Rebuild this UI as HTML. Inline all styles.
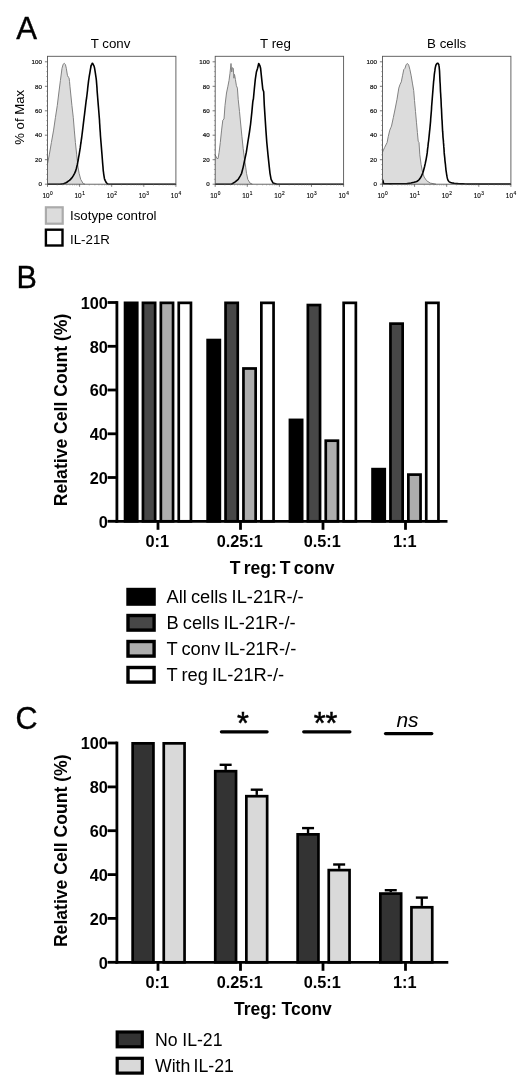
<!DOCTYPE html>
<html><head><meta charset="utf-8"><title>Figure</title>
<style>
html,body{margin:0;padding:0;background:#fff;}
svg{display:block;}
text{font-family:"Liberation Sans",sans-serif;fill:#000;}
.b{font-weight:bold;}
</style></head><body>
<svg width="520" height="1086" viewBox="0 0 520 1086">
<rect width="520" height="1086" fill="#fff"/>

<text x="16.2" y="38.6" font-size="31.2" stroke="#000" stroke-width="0.35">A</text>
<g>
<text x="110.5" y="47.6" font-size="13.3" text-anchor="middle">T conv</text>
<polygon points="47.6,184.2 47.6,163.4 49.3,154.8 51.4,142.5 53.6,130.1 55.4,117.7 57.3,105.4 58.8,93.0 60.4,80.6 62.0,68.3 63.2,64.2 64.3,63.3 65.4,64.5 66.3,68.3 67.4,75.3 68.2,77.0 69.0,77.7 69.5,81.4 70.0,86.8 71.9,105.4 73.3,117.7 74.3,130.1 75.4,142.5 76.7,154.8 78.0,167.1 79.1,173.3 80.7,179.4 83.2,183.6 85.0,184.2 85.0,184.2" fill="#dcdcdc" stroke="none"/>
<polyline points="47.6,163.4 49.3,154.8 51.4,142.5 53.6,130.1 55.4,117.7 57.3,105.4 58.8,93.0 60.4,80.6 62.0,68.3 63.2,64.2 64.3,63.3 65.4,64.5 66.3,68.3 67.4,75.3 68.2,77.0 69.0,77.7 69.5,81.4 70.0,86.8 71.9,105.4 73.3,117.7 74.3,130.1 75.4,142.5 76.7,154.8 78.0,167.1 79.1,173.3 80.7,179.4 83.2,183.6 85.0,184.2" fill="none" stroke="#828282" stroke-width="1" stroke-linejoin="round"/>
<polyline points="47.6,184.2 49.4,184.2 52.1,184.2 55.0,184.2 57.8,184.2 60.0,184.2 61.4,184.1 62.5,184.0 63.2,183.9 64.0,183.6 64.9,183.2 66.0,182.7 67.2,182.0 68.3,181.2 69.5,180.4 70.5,179.4 71.4,178.4 72.3,177.2 73.2,175.9 73.9,174.6 74.6,173.3 75.1,172.2 75.6,171.1 75.9,170.0 76.3,168.7 76.7,167.1 77.2,165.0 77.7,162.6 78.2,160.0 78.6,157.4 79.1,154.8 79.5,152.4 79.9,149.9 80.3,147.4 80.6,144.9 81.0,142.5 81.3,140.0 81.7,137.5 82.0,135.0 82.3,132.6 82.6,130.1 82.9,127.6 83.2,125.2 83.5,122.7 83.8,120.2 84.1,117.7 84.4,115.3 84.7,112.8 85.0,110.3 85.3,107.8 85.6,105.4 85.9,102.9 86.2,100.4 86.6,98.0 86.9,95.5 87.2,93.0 87.5,90.5 87.7,88.1 88.0,85.6 88.3,83.1 88.6,80.6 89.0,78.0 89.4,75.3 89.9,72.6 90.3,70.2 90.6,68.3 90.9,67.0 91.0,66.1 91.2,65.6 91.3,65.2 91.5,64.7 91.7,64.3 91.8,63.9 92.0,63.6 92.1,63.4 92.3,63.3 92.5,63.3 92.6,63.4 92.8,63.7 93.0,64.0 93.2,64.5 93.4,65.0 93.7,65.4 94.0,66.0 94.3,66.9 94.6,68.3 94.9,70.2 95.3,72.6 95.7,75.3 96.1,78.0 96.4,80.6 96.6,83.1 96.8,85.6 97.0,88.1 97.1,90.5 97.3,93.0 97.5,95.5 97.7,98.0 97.9,100.4 98.1,102.9 98.3,105.4 98.5,107.8 98.7,110.3 98.9,112.8 99.1,115.3 99.3,117.7 99.5,120.2 99.6,122.7 99.8,125.2 99.9,127.6 100.1,130.1 100.3,132.6 100.4,135.0 100.6,137.5 100.8,140.0 101.0,142.5 101.2,144.9 101.4,147.4 101.6,149.9 101.8,152.4 102.0,154.8 102.2,157.4 102.4,160.0 102.6,162.6 102.8,165.0 103.0,167.1 103.1,168.7 103.2,170.0 103.3,171.1 103.5,172.2 103.6,173.3 103.8,174.6 104.0,175.9 104.2,177.2 104.4,178.4 104.7,179.4 105.1,180.4 105.5,181.2 105.9,182.0 106.4,182.7 106.9,183.2 107.2,183.6 107.3,183.9 107.5,184.0 108.3,184.1 110.0,184.2 112.5,184.2 115.5,184.2 119.3,184.2 124.1,184.2 130.0,184.2 138.3,184.2 148.7,184.2 159.6,184.2 169.2,184.2 175.9,184.2" fill="none" stroke="#000" stroke-width="1.6" stroke-linejoin="round"/>
<rect x="47.5" y="56.3" width="128.4" height="127.9" fill="none" stroke="#555" stroke-width="0.9"/>
<line x1="44.9" y1="184.2" x2="47.5" y2="184.2" stroke="#444" stroke-width="0.7"/>
<text x="41.9" y="186.4" font-size="6.2" stroke="#222" stroke-width="0.2" text-anchor="end" fill="#222">0</text>
<line x1="44.9" y1="159.7" x2="47.5" y2="159.7" stroke="#444" stroke-width="0.7"/>
<text x="41.9" y="161.9" font-size="6.2" stroke="#222" stroke-width="0.2" text-anchor="end" fill="#222">20</text>
<line x1="44.9" y1="135.2" x2="47.5" y2="135.2" stroke="#444" stroke-width="0.7"/>
<text x="41.9" y="137.4" font-size="6.2" stroke="#222" stroke-width="0.2" text-anchor="end" fill="#222">40</text>
<line x1="44.9" y1="110.8" x2="47.5" y2="110.8" stroke="#444" stroke-width="0.7"/>
<text x="41.9" y="113.0" font-size="6.2" stroke="#222" stroke-width="0.2" text-anchor="end" fill="#222">60</text>
<line x1="44.9" y1="86.3" x2="47.5" y2="86.3" stroke="#444" stroke-width="0.7"/>
<text x="41.9" y="88.5" font-size="6.2" stroke="#222" stroke-width="0.2" text-anchor="end" fill="#222">80</text>
<line x1="44.9" y1="61.8" x2="47.5" y2="61.8" stroke="#444" stroke-width="0.7"/>
<text x="41.9" y="64.0" font-size="6.2" stroke="#222" stroke-width="0.2" text-anchor="end" fill="#222">100</text>
<line x1="46.2" y1="179.3" x2="47.5" y2="179.3" stroke="#666" stroke-width="0.5"/>
<line x1="46.2" y1="174.4" x2="47.5" y2="174.4" stroke="#666" stroke-width="0.5"/>
<line x1="46.2" y1="169.5" x2="47.5" y2="169.5" stroke="#666" stroke-width="0.5"/>
<line x1="46.2" y1="164.6" x2="47.5" y2="164.6" stroke="#666" stroke-width="0.5"/>
<line x1="46.2" y1="154.8" x2="47.5" y2="154.8" stroke="#666" stroke-width="0.5"/>
<line x1="46.2" y1="149.9" x2="47.5" y2="149.9" stroke="#666" stroke-width="0.5"/>
<line x1="46.2" y1="145.0" x2="47.5" y2="145.0" stroke="#666" stroke-width="0.5"/>
<line x1="46.2" y1="140.1" x2="47.5" y2="140.1" stroke="#666" stroke-width="0.5"/>
<line x1="46.2" y1="130.3" x2="47.5" y2="130.3" stroke="#666" stroke-width="0.5"/>
<line x1="46.2" y1="125.4" x2="47.5" y2="125.4" stroke="#666" stroke-width="0.5"/>
<line x1="46.2" y1="120.6" x2="47.5" y2="120.6" stroke="#666" stroke-width="0.5"/>
<line x1="46.2" y1="115.7" x2="47.5" y2="115.7" stroke="#666" stroke-width="0.5"/>
<line x1="46.2" y1="105.9" x2="47.5" y2="105.9" stroke="#666" stroke-width="0.5"/>
<line x1="46.2" y1="101.0" x2="47.5" y2="101.0" stroke="#666" stroke-width="0.5"/>
<line x1="46.2" y1="96.1" x2="47.5" y2="96.1" stroke="#666" stroke-width="0.5"/>
<line x1="46.2" y1="91.2" x2="47.5" y2="91.2" stroke="#666" stroke-width="0.5"/>
<line x1="46.2" y1="81.4" x2="47.5" y2="81.4" stroke="#666" stroke-width="0.5"/>
<line x1="46.2" y1="76.5" x2="47.5" y2="76.5" stroke="#666" stroke-width="0.5"/>
<line x1="46.2" y1="71.6" x2="47.5" y2="71.6" stroke="#666" stroke-width="0.5"/>
<line x1="46.2" y1="66.7" x2="47.5" y2="66.7" stroke="#666" stroke-width="0.5"/>
<line x1="47.5" y1="184.2" x2="47.5" y2="186.79999999999998" stroke="#444" stroke-width="0.7"/>
<text x="47.6" y="197.8" font-size="6.4" text-anchor="middle" fill="#000" stroke="#000" stroke-width="0.12">10<tspan dx="0.5" dy="-3.0" font-size="4.8">0</tspan></text>
<line x1="57.2" y1="184.2" x2="57.2" y2="185.6" stroke="#777" stroke-width="0.4"/>
<line x1="62.8" y1="184.2" x2="62.8" y2="185.6" stroke="#777" stroke-width="0.4"/>
<line x1="66.8" y1="184.2" x2="66.8" y2="185.6" stroke="#777" stroke-width="0.4"/>
<line x1="69.9" y1="184.2" x2="69.9" y2="185.6" stroke="#777" stroke-width="0.4"/>
<line x1="72.5" y1="184.2" x2="72.5" y2="185.6" stroke="#777" stroke-width="0.4"/>
<line x1="74.6" y1="184.2" x2="74.6" y2="185.6" stroke="#777" stroke-width="0.4"/>
<line x1="76.5" y1="184.2" x2="76.5" y2="185.6" stroke="#777" stroke-width="0.4"/>
<line x1="78.1" y1="184.2" x2="78.1" y2="185.6" stroke="#777" stroke-width="0.4"/>
<line x1="79.6" y1="184.2" x2="79.6" y2="186.79999999999998" stroke="#444" stroke-width="0.7"/>
<text x="79.7" y="197.8" font-size="6.4" text-anchor="middle" fill="#000" stroke="#000" stroke-width="0.12">10<tspan dx="0.5" dy="-3.0" font-size="4.8">1</tspan></text>
<line x1="89.3" y1="184.2" x2="89.3" y2="185.6" stroke="#777" stroke-width="0.4"/>
<line x1="94.9" y1="184.2" x2="94.9" y2="185.6" stroke="#777" stroke-width="0.4"/>
<line x1="98.9" y1="184.2" x2="98.9" y2="185.6" stroke="#777" stroke-width="0.4"/>
<line x1="102.0" y1="184.2" x2="102.0" y2="185.6" stroke="#777" stroke-width="0.4"/>
<line x1="104.6" y1="184.2" x2="104.6" y2="185.6" stroke="#777" stroke-width="0.4"/>
<line x1="106.7" y1="184.2" x2="106.7" y2="185.6" stroke="#777" stroke-width="0.4"/>
<line x1="108.6" y1="184.2" x2="108.6" y2="185.6" stroke="#777" stroke-width="0.4"/>
<line x1="110.2" y1="184.2" x2="110.2" y2="185.6" stroke="#777" stroke-width="0.4"/>
<line x1="111.7" y1="184.2" x2="111.7" y2="186.79999999999998" stroke="#444" stroke-width="0.7"/>
<text x="111.8" y="197.8" font-size="6.4" text-anchor="middle" fill="#000" stroke="#000" stroke-width="0.12">10<tspan dx="0.5" dy="-3.0" font-size="4.8">2</tspan></text>
<line x1="121.4" y1="184.2" x2="121.4" y2="185.6" stroke="#777" stroke-width="0.4"/>
<line x1="127.0" y1="184.2" x2="127.0" y2="185.6" stroke="#777" stroke-width="0.4"/>
<line x1="131.0" y1="184.2" x2="131.0" y2="185.6" stroke="#777" stroke-width="0.4"/>
<line x1="134.1" y1="184.2" x2="134.1" y2="185.6" stroke="#777" stroke-width="0.4"/>
<line x1="136.7" y1="184.2" x2="136.7" y2="185.6" stroke="#777" stroke-width="0.4"/>
<line x1="138.8" y1="184.2" x2="138.8" y2="185.6" stroke="#777" stroke-width="0.4"/>
<line x1="140.7" y1="184.2" x2="140.7" y2="185.6" stroke="#777" stroke-width="0.4"/>
<line x1="142.3" y1="184.2" x2="142.3" y2="185.6" stroke="#777" stroke-width="0.4"/>
<line x1="143.8" y1="184.2" x2="143.8" y2="186.79999999999998" stroke="#444" stroke-width="0.7"/>
<text x="143.9" y="197.8" font-size="6.4" text-anchor="middle" fill="#000" stroke="#000" stroke-width="0.12">10<tspan dx="0.5" dy="-3.0" font-size="4.8">3</tspan></text>
<line x1="153.5" y1="184.2" x2="153.5" y2="185.6" stroke="#777" stroke-width="0.4"/>
<line x1="159.1" y1="184.2" x2="159.1" y2="185.6" stroke="#777" stroke-width="0.4"/>
<line x1="163.1" y1="184.2" x2="163.1" y2="185.6" stroke="#777" stroke-width="0.4"/>
<line x1="166.2" y1="184.2" x2="166.2" y2="185.6" stroke="#777" stroke-width="0.4"/>
<line x1="168.8" y1="184.2" x2="168.8" y2="185.6" stroke="#777" stroke-width="0.4"/>
<line x1="170.9" y1="184.2" x2="170.9" y2="185.6" stroke="#777" stroke-width="0.4"/>
<line x1="172.8" y1="184.2" x2="172.8" y2="185.6" stroke="#777" stroke-width="0.4"/>
<line x1="174.4" y1="184.2" x2="174.4" y2="185.6" stroke="#777" stroke-width="0.4"/>
<line x1="175.9" y1="184.2" x2="175.9" y2="186.79999999999998" stroke="#444" stroke-width="0.7"/>
<text x="176.0" y="197.8" font-size="6.4" text-anchor="middle" fill="#000" stroke="#000" stroke-width="0.12">10<tspan dx="0.5" dy="-3.0" font-size="4.8">4</tspan></text>
</g>
<g>
<text x="275.5" y="47.6" font-size="13.3" text-anchor="middle">T reg</text>
<polygon points="215.2,184.2 215.2,154.8 216.9,158.5 218.1,158.5 219.1,152.4 220.3,142.5 221.6,130.1 222.8,120.2 224.0,119.0 225.0,105.4 226.5,93.0 227.8,86.8 229.0,80.6 230.0,73.2 231.0,63.5 231.7,72.0 232.4,67.7 233.3,68.3 233.9,78.2 234.5,74.4 235.4,79.4 236.4,85.7 237.4,88.1 238.2,99.3 239.5,111.6 240.7,124.0 241.9,136.3 243.2,148.7 244.4,158.5 245.7,167.1 246.5,173.3 247.8,179.4 250.0,183.1 252.4,184.2 252.4,184.2" fill="#dcdcdc" stroke="none"/>
<polyline points="215.2,154.8 216.9,158.5 218.1,158.5 219.1,152.4 220.3,142.5 221.6,130.1 222.8,120.2 224.0,119.0 225.0,105.4 226.5,93.0 227.8,86.8 229.0,80.6 230.0,73.2 231.0,63.5 231.7,72.0 232.4,67.7 233.3,68.3 233.9,78.2 234.5,74.4 235.4,79.4 236.4,85.7 237.4,88.1 238.2,99.3 239.5,111.6 240.7,124.0 241.9,136.3 243.2,148.7 244.4,158.5 245.7,167.1 246.5,173.3 247.8,179.4 250.0,183.1 252.4,184.2" fill="none" stroke="#828282" stroke-width="1" stroke-linejoin="round"/>
<polyline points="215.2,184.2 231.5,184.2 235.2,181.9 238.2,179.4 240.3,175.8 241.6,173.3 243.2,167.1 245.0,158.5 246.3,152.4 247.8,142.5 249.4,132.5 250.6,124.0 251.9,111.6 252.7,102.9 253.0,100.5 253.4,99.0 254.3,89.3 255.3,79.4 256.4,72.0 257.6,68.3 258.7,63.5 259.9,65.7 260.6,68.3 261.6,78.2 262.8,89.3 263.7,91.8 264.3,105.4 265.1,117.7 265.9,130.1 266.8,142.5 268.0,154.8 269.3,167.1 270.0,173.3 271.1,179.4 273.1,183.1 277.0,184.2 343.6,184.2" fill="none" stroke="#000" stroke-width="1.6" stroke-linejoin="round"/>
<rect x="215.2" y="56.3" width="128.4" height="127.9" fill="none" stroke="#555" stroke-width="0.9"/>
<line x1="212.6" y1="184.2" x2="215.2" y2="184.2" stroke="#444" stroke-width="0.7"/>
<text x="209.6" y="186.4" font-size="6.2" stroke="#222" stroke-width="0.2" text-anchor="end" fill="#222">0</text>
<line x1="212.6" y1="159.7" x2="215.2" y2="159.7" stroke="#444" stroke-width="0.7"/>
<text x="209.6" y="161.9" font-size="6.2" stroke="#222" stroke-width="0.2" text-anchor="end" fill="#222">20</text>
<line x1="212.6" y1="135.2" x2="215.2" y2="135.2" stroke="#444" stroke-width="0.7"/>
<text x="209.6" y="137.4" font-size="6.2" stroke="#222" stroke-width="0.2" text-anchor="end" fill="#222">40</text>
<line x1="212.6" y1="110.8" x2="215.2" y2="110.8" stroke="#444" stroke-width="0.7"/>
<text x="209.6" y="113.0" font-size="6.2" stroke="#222" stroke-width="0.2" text-anchor="end" fill="#222">60</text>
<line x1="212.6" y1="86.3" x2="215.2" y2="86.3" stroke="#444" stroke-width="0.7"/>
<text x="209.6" y="88.5" font-size="6.2" stroke="#222" stroke-width="0.2" text-anchor="end" fill="#222">80</text>
<line x1="212.6" y1="61.8" x2="215.2" y2="61.8" stroke="#444" stroke-width="0.7"/>
<text x="209.6" y="64.0" font-size="6.2" stroke="#222" stroke-width="0.2" text-anchor="end" fill="#222">100</text>
<line x1="213.89999999999998" y1="179.3" x2="215.2" y2="179.3" stroke="#666" stroke-width="0.5"/>
<line x1="213.89999999999998" y1="174.4" x2="215.2" y2="174.4" stroke="#666" stroke-width="0.5"/>
<line x1="213.89999999999998" y1="169.5" x2="215.2" y2="169.5" stroke="#666" stroke-width="0.5"/>
<line x1="213.89999999999998" y1="164.6" x2="215.2" y2="164.6" stroke="#666" stroke-width="0.5"/>
<line x1="213.89999999999998" y1="154.8" x2="215.2" y2="154.8" stroke="#666" stroke-width="0.5"/>
<line x1="213.89999999999998" y1="149.9" x2="215.2" y2="149.9" stroke="#666" stroke-width="0.5"/>
<line x1="213.89999999999998" y1="145.0" x2="215.2" y2="145.0" stroke="#666" stroke-width="0.5"/>
<line x1="213.89999999999998" y1="140.1" x2="215.2" y2="140.1" stroke="#666" stroke-width="0.5"/>
<line x1="213.89999999999998" y1="130.3" x2="215.2" y2="130.3" stroke="#666" stroke-width="0.5"/>
<line x1="213.89999999999998" y1="125.4" x2="215.2" y2="125.4" stroke="#666" stroke-width="0.5"/>
<line x1="213.89999999999998" y1="120.6" x2="215.2" y2="120.6" stroke="#666" stroke-width="0.5"/>
<line x1="213.89999999999998" y1="115.7" x2="215.2" y2="115.7" stroke="#666" stroke-width="0.5"/>
<line x1="213.89999999999998" y1="105.9" x2="215.2" y2="105.9" stroke="#666" stroke-width="0.5"/>
<line x1="213.89999999999998" y1="101.0" x2="215.2" y2="101.0" stroke="#666" stroke-width="0.5"/>
<line x1="213.89999999999998" y1="96.1" x2="215.2" y2="96.1" stroke="#666" stroke-width="0.5"/>
<line x1="213.89999999999998" y1="91.2" x2="215.2" y2="91.2" stroke="#666" stroke-width="0.5"/>
<line x1="213.89999999999998" y1="81.4" x2="215.2" y2="81.4" stroke="#666" stroke-width="0.5"/>
<line x1="213.89999999999998" y1="76.5" x2="215.2" y2="76.5" stroke="#666" stroke-width="0.5"/>
<line x1="213.89999999999998" y1="71.6" x2="215.2" y2="71.6" stroke="#666" stroke-width="0.5"/>
<line x1="213.89999999999998" y1="66.7" x2="215.2" y2="66.7" stroke="#666" stroke-width="0.5"/>
<line x1="215.2" y1="184.2" x2="215.2" y2="186.79999999999998" stroke="#444" stroke-width="0.7"/>
<text x="215.3" y="197.8" font-size="6.4" text-anchor="middle" fill="#000" stroke="#000" stroke-width="0.12">10<tspan dx="0.5" dy="-3.0" font-size="4.8">0</tspan></text>
<line x1="224.9" y1="184.2" x2="224.9" y2="185.6" stroke="#777" stroke-width="0.4"/>
<line x1="230.5" y1="184.2" x2="230.5" y2="185.6" stroke="#777" stroke-width="0.4"/>
<line x1="234.5" y1="184.2" x2="234.5" y2="185.6" stroke="#777" stroke-width="0.4"/>
<line x1="237.6" y1="184.2" x2="237.6" y2="185.6" stroke="#777" stroke-width="0.4"/>
<line x1="240.2" y1="184.2" x2="240.2" y2="185.6" stroke="#777" stroke-width="0.4"/>
<line x1="242.3" y1="184.2" x2="242.3" y2="185.6" stroke="#777" stroke-width="0.4"/>
<line x1="244.2" y1="184.2" x2="244.2" y2="185.6" stroke="#777" stroke-width="0.4"/>
<line x1="245.8" y1="184.2" x2="245.8" y2="185.6" stroke="#777" stroke-width="0.4"/>
<line x1="247.3" y1="184.2" x2="247.3" y2="186.79999999999998" stroke="#444" stroke-width="0.7"/>
<text x="247.4" y="197.8" font-size="6.4" text-anchor="middle" fill="#000" stroke="#000" stroke-width="0.12">10<tspan dx="0.5" dy="-3.0" font-size="4.8">1</tspan></text>
<line x1="257.0" y1="184.2" x2="257.0" y2="185.6" stroke="#777" stroke-width="0.4"/>
<line x1="262.6" y1="184.2" x2="262.6" y2="185.6" stroke="#777" stroke-width="0.4"/>
<line x1="266.6" y1="184.2" x2="266.6" y2="185.6" stroke="#777" stroke-width="0.4"/>
<line x1="269.7" y1="184.2" x2="269.7" y2="185.6" stroke="#777" stroke-width="0.4"/>
<line x1="272.3" y1="184.2" x2="272.3" y2="185.6" stroke="#777" stroke-width="0.4"/>
<line x1="274.4" y1="184.2" x2="274.4" y2="185.6" stroke="#777" stroke-width="0.4"/>
<line x1="276.3" y1="184.2" x2="276.3" y2="185.6" stroke="#777" stroke-width="0.4"/>
<line x1="277.9" y1="184.2" x2="277.9" y2="185.6" stroke="#777" stroke-width="0.4"/>
<line x1="279.4" y1="184.2" x2="279.4" y2="186.79999999999998" stroke="#444" stroke-width="0.7"/>
<text x="279.5" y="197.8" font-size="6.4" text-anchor="middle" fill="#000" stroke="#000" stroke-width="0.12">10<tspan dx="0.5" dy="-3.0" font-size="4.8">2</tspan></text>
<line x1="289.1" y1="184.2" x2="289.1" y2="185.6" stroke="#777" stroke-width="0.4"/>
<line x1="294.7" y1="184.2" x2="294.7" y2="185.6" stroke="#777" stroke-width="0.4"/>
<line x1="298.7" y1="184.2" x2="298.7" y2="185.6" stroke="#777" stroke-width="0.4"/>
<line x1="301.8" y1="184.2" x2="301.8" y2="185.6" stroke="#777" stroke-width="0.4"/>
<line x1="304.4" y1="184.2" x2="304.4" y2="185.6" stroke="#777" stroke-width="0.4"/>
<line x1="306.5" y1="184.2" x2="306.5" y2="185.6" stroke="#777" stroke-width="0.4"/>
<line x1="308.4" y1="184.2" x2="308.4" y2="185.6" stroke="#777" stroke-width="0.4"/>
<line x1="310.0" y1="184.2" x2="310.0" y2="185.6" stroke="#777" stroke-width="0.4"/>
<line x1="311.5" y1="184.2" x2="311.5" y2="186.79999999999998" stroke="#444" stroke-width="0.7"/>
<text x="311.6" y="197.8" font-size="6.4" text-anchor="middle" fill="#000" stroke="#000" stroke-width="0.12">10<tspan dx="0.5" dy="-3.0" font-size="4.8">3</tspan></text>
<line x1="321.2" y1="184.2" x2="321.2" y2="185.6" stroke="#777" stroke-width="0.4"/>
<line x1="326.8" y1="184.2" x2="326.8" y2="185.6" stroke="#777" stroke-width="0.4"/>
<line x1="330.8" y1="184.2" x2="330.8" y2="185.6" stroke="#777" stroke-width="0.4"/>
<line x1="333.9" y1="184.2" x2="333.9" y2="185.6" stroke="#777" stroke-width="0.4"/>
<line x1="336.5" y1="184.2" x2="336.5" y2="185.6" stroke="#777" stroke-width="0.4"/>
<line x1="338.6" y1="184.2" x2="338.6" y2="185.6" stroke="#777" stroke-width="0.4"/>
<line x1="340.5" y1="184.2" x2="340.5" y2="185.6" stroke="#777" stroke-width="0.4"/>
<line x1="342.1" y1="184.2" x2="342.1" y2="185.6" stroke="#777" stroke-width="0.4"/>
<line x1="343.6" y1="184.2" x2="343.6" y2="186.79999999999998" stroke="#444" stroke-width="0.7"/>
<text x="343.7" y="197.8" font-size="6.4" text-anchor="middle" fill="#000" stroke="#000" stroke-width="0.12">10<tspan dx="0.5" dy="-3.0" font-size="4.8">4</tspan></text>
</g>
<g>
<text x="446.7" y="47.6" font-size="13.3" text-anchor="middle">B cells</text>
<polygon points="382.4,184.2 382.4,152.4 384.6,147.5 387.1,142.5 388.3,136.3 389.8,130.1 390.8,127.7 391.5,126.1 393.3,117.7 395.1,109.0 397.0,99.3 398.8,88.1 400.1,84.3 401.3,81.9 402.5,75.8 403.8,69.5 405.0,68.3 406.2,64.5 407.5,63.5 408.7,65.1 409.9,69.5 411.2,75.8 412.4,83.1 413.7,90.6 414.5,100.5 415.5,111.6 416.5,122.8 417.4,132.5 418.2,141.2 419.0,142.5 419.8,154.8 421.1,164.6 422.3,170.9 424.1,177.0 426.6,180.7 430.3,183.1 436.0,184.2 436.0,184.2" fill="#dcdcdc" stroke="none"/>
<polyline points="382.4,152.4 384.6,147.5 387.1,142.5 388.3,136.3 389.8,130.1 390.8,127.7 391.5,126.1 393.3,117.7 395.1,109.0 397.0,99.3 398.8,88.1 400.1,84.3 401.3,81.9 402.5,75.8 403.8,69.5 405.0,68.3 406.2,64.5 407.5,63.5 408.7,65.1 409.9,69.5 411.2,75.8 412.4,83.1 413.7,90.6 414.5,100.5 415.5,111.6 416.5,122.8 417.4,132.5 418.2,141.2 419.0,142.5 419.8,154.8 421.1,164.6 422.3,170.9 424.1,177.0 426.6,180.7 430.3,183.1 436.0,184.2" fill="none" stroke="#828282" stroke-width="1" stroke-linejoin="round"/>
<polyline points="382.6,184.2 382.9,180.3 383.6,183.5 385.0,183.8 385.0,183.8 386.3,183.8 388.2,183.8 390.4,183.9 392.7,183.8 395.0,183.8 397.4,183.8 399.9,183.8 402.5,183.8 404.9,183.7 406.9,183.6 408.5,183.4 409.8,183.2 411.0,183.0 412.0,182.7 413.0,182.5 414.0,182.3 415.0,182.0 415.9,181.8 416.7,181.5 417.5,181.0 418.3,180.4 419.0,179.7 419.7,178.9 420.3,178.0 420.9,177.0 421.5,175.9 422.0,174.7 422.5,173.5 423.0,172.2 423.4,170.9 423.8,169.5 424.2,168.0 424.6,166.5 424.9,165.0 425.3,163.4 425.6,161.8 426.0,160.1 426.3,158.4 426.6,156.6 426.9,154.8 427.2,152.9 427.4,150.9 427.6,148.9 427.9,146.9 428.1,144.9 428.3,142.9 428.6,141.0 428.8,139.0 429.0,137.1 429.2,135.1 429.4,133.2 429.6,131.2 429.8,129.3 430.0,127.3 430.2,125.2 430.4,123.1 430.6,120.9 430.7,118.7 430.9,116.4 431.1,114.1 431.3,111.7 431.5,109.2 431.6,106.7 431.8,104.2 432.0,101.7 432.2,99.2 432.4,96.8 432.6,94.3 432.8,91.8 433.0,89.3 433.2,86.8 433.4,84.3 433.6,81.7 433.9,79.3 434.1,77.0 434.3,74.7 434.6,72.5 434.9,70.4 435.1,68.6 435.4,67.1 435.7,66.0 435.9,65.2 436.2,64.6 436.4,64.2 436.7,63.9 437.0,63.6 437.3,63.3 437.6,63.2 437.9,63.3 438.2,63.5 438.4,63.9 438.7,64.3 438.9,65.0 439.0,65.9 439.2,67.1 439.3,68.6 439.5,70.5 439.6,72.5 439.7,74.7 439.8,77.0 439.9,79.3 440.0,81.7 440.2,84.3 440.3,86.8 440.4,89.3 440.5,91.8 440.7,94.3 440.8,96.8 441.0,99.2 441.1,101.7 441.2,104.2 441.3,106.7 441.5,109.2 441.6,111.7 441.7,114.1 441.8,116.4 441.9,118.7 442.1,120.9 442.2,123.1 442.3,125.2 442.4,127.3 442.5,129.3 442.6,131.2 442.8,133.2 442.9,135.1 443.0,137.1 443.2,139.0 443.4,141.0 443.5,142.9 443.7,144.9 443.8,146.9 444.0,148.9 444.1,150.9 444.2,152.9 444.4,154.8 444.6,156.6 444.8,158.4 444.9,160.1 445.1,161.8 445.3,163.4 445.5,165.0 445.6,166.5 445.8,168.0 445.9,169.5 446.1,170.9 446.3,172.2 446.5,173.5 446.7,174.8 446.9,175.9 447.1,177.0 447.3,177.9 447.5,178.7 447.7,179.4 448.0,180.1 448.3,180.7 448.6,181.1 449.0,181.6 449.4,181.9 450.0,182.2 450.6,182.5 451.3,182.7 452.1,183.0 453.1,183.1 454.2,183.3 455.5,183.5 457.1,183.6 458.9,183.7 460.9,183.9 463.0,183.9 465.4,184.0 467.8,184.1 470.1,184.1 472.8,184.1 476.0,184.1 480.0,184.1 485.6,184.1 492.7,184.1 500.0,184.1 506.4,184.1 510.9,184.1" fill="none" stroke="#000" stroke-width="1.6" stroke-linejoin="round"/>
<rect x="382.5" y="56.3" width="128.4" height="127.9" fill="none" stroke="#555" stroke-width="0.9"/>
<line x1="379.9" y1="184.2" x2="382.5" y2="184.2" stroke="#444" stroke-width="0.7"/>
<text x="376.9" y="186.4" font-size="6.2" stroke="#222" stroke-width="0.2" text-anchor="end" fill="#222">0</text>
<line x1="379.9" y1="159.7" x2="382.5" y2="159.7" stroke="#444" stroke-width="0.7"/>
<text x="376.9" y="161.9" font-size="6.2" stroke="#222" stroke-width="0.2" text-anchor="end" fill="#222">20</text>
<line x1="379.9" y1="135.2" x2="382.5" y2="135.2" stroke="#444" stroke-width="0.7"/>
<text x="376.9" y="137.4" font-size="6.2" stroke="#222" stroke-width="0.2" text-anchor="end" fill="#222">40</text>
<line x1="379.9" y1="110.8" x2="382.5" y2="110.8" stroke="#444" stroke-width="0.7"/>
<text x="376.9" y="113.0" font-size="6.2" stroke="#222" stroke-width="0.2" text-anchor="end" fill="#222">60</text>
<line x1="379.9" y1="86.3" x2="382.5" y2="86.3" stroke="#444" stroke-width="0.7"/>
<text x="376.9" y="88.5" font-size="6.2" stroke="#222" stroke-width="0.2" text-anchor="end" fill="#222">80</text>
<line x1="379.9" y1="61.8" x2="382.5" y2="61.8" stroke="#444" stroke-width="0.7"/>
<text x="376.9" y="64.0" font-size="6.2" stroke="#222" stroke-width="0.2" text-anchor="end" fill="#222">100</text>
<line x1="381.2" y1="179.3" x2="382.5" y2="179.3" stroke="#666" stroke-width="0.5"/>
<line x1="381.2" y1="174.4" x2="382.5" y2="174.4" stroke="#666" stroke-width="0.5"/>
<line x1="381.2" y1="169.5" x2="382.5" y2="169.5" stroke="#666" stroke-width="0.5"/>
<line x1="381.2" y1="164.6" x2="382.5" y2="164.6" stroke="#666" stroke-width="0.5"/>
<line x1="381.2" y1="154.8" x2="382.5" y2="154.8" stroke="#666" stroke-width="0.5"/>
<line x1="381.2" y1="149.9" x2="382.5" y2="149.9" stroke="#666" stroke-width="0.5"/>
<line x1="381.2" y1="145.0" x2="382.5" y2="145.0" stroke="#666" stroke-width="0.5"/>
<line x1="381.2" y1="140.1" x2="382.5" y2="140.1" stroke="#666" stroke-width="0.5"/>
<line x1="381.2" y1="130.3" x2="382.5" y2="130.3" stroke="#666" stroke-width="0.5"/>
<line x1="381.2" y1="125.4" x2="382.5" y2="125.4" stroke="#666" stroke-width="0.5"/>
<line x1="381.2" y1="120.6" x2="382.5" y2="120.6" stroke="#666" stroke-width="0.5"/>
<line x1="381.2" y1="115.7" x2="382.5" y2="115.7" stroke="#666" stroke-width="0.5"/>
<line x1="381.2" y1="105.9" x2="382.5" y2="105.9" stroke="#666" stroke-width="0.5"/>
<line x1="381.2" y1="101.0" x2="382.5" y2="101.0" stroke="#666" stroke-width="0.5"/>
<line x1="381.2" y1="96.1" x2="382.5" y2="96.1" stroke="#666" stroke-width="0.5"/>
<line x1="381.2" y1="91.2" x2="382.5" y2="91.2" stroke="#666" stroke-width="0.5"/>
<line x1="381.2" y1="81.4" x2="382.5" y2="81.4" stroke="#666" stroke-width="0.5"/>
<line x1="381.2" y1="76.5" x2="382.5" y2="76.5" stroke="#666" stroke-width="0.5"/>
<line x1="381.2" y1="71.6" x2="382.5" y2="71.6" stroke="#666" stroke-width="0.5"/>
<line x1="381.2" y1="66.7" x2="382.5" y2="66.7" stroke="#666" stroke-width="0.5"/>
<line x1="382.5" y1="184.2" x2="382.5" y2="186.79999999999998" stroke="#444" stroke-width="0.7"/>
<text x="382.6" y="197.8" font-size="6.4" text-anchor="middle" fill="#000" stroke="#000" stroke-width="0.12">10<tspan dx="0.5" dy="-3.0" font-size="4.8">0</tspan></text>
<line x1="392.2" y1="184.2" x2="392.2" y2="185.6" stroke="#777" stroke-width="0.4"/>
<line x1="397.8" y1="184.2" x2="397.8" y2="185.6" stroke="#777" stroke-width="0.4"/>
<line x1="401.8" y1="184.2" x2="401.8" y2="185.6" stroke="#777" stroke-width="0.4"/>
<line x1="404.9" y1="184.2" x2="404.9" y2="185.6" stroke="#777" stroke-width="0.4"/>
<line x1="407.5" y1="184.2" x2="407.5" y2="185.6" stroke="#777" stroke-width="0.4"/>
<line x1="409.6" y1="184.2" x2="409.6" y2="185.6" stroke="#777" stroke-width="0.4"/>
<line x1="411.5" y1="184.2" x2="411.5" y2="185.6" stroke="#777" stroke-width="0.4"/>
<line x1="413.1" y1="184.2" x2="413.1" y2="185.6" stroke="#777" stroke-width="0.4"/>
<line x1="414.6" y1="184.2" x2="414.6" y2="186.79999999999998" stroke="#444" stroke-width="0.7"/>
<text x="414.7" y="197.8" font-size="6.4" text-anchor="middle" fill="#000" stroke="#000" stroke-width="0.12">10<tspan dx="0.5" dy="-3.0" font-size="4.8">1</tspan></text>
<line x1="424.3" y1="184.2" x2="424.3" y2="185.6" stroke="#777" stroke-width="0.4"/>
<line x1="429.9" y1="184.2" x2="429.9" y2="185.6" stroke="#777" stroke-width="0.4"/>
<line x1="433.9" y1="184.2" x2="433.9" y2="185.6" stroke="#777" stroke-width="0.4"/>
<line x1="437.0" y1="184.2" x2="437.0" y2="185.6" stroke="#777" stroke-width="0.4"/>
<line x1="439.6" y1="184.2" x2="439.6" y2="185.6" stroke="#777" stroke-width="0.4"/>
<line x1="441.7" y1="184.2" x2="441.7" y2="185.6" stroke="#777" stroke-width="0.4"/>
<line x1="443.6" y1="184.2" x2="443.6" y2="185.6" stroke="#777" stroke-width="0.4"/>
<line x1="445.2" y1="184.2" x2="445.2" y2="185.6" stroke="#777" stroke-width="0.4"/>
<line x1="446.7" y1="184.2" x2="446.7" y2="186.79999999999998" stroke="#444" stroke-width="0.7"/>
<text x="446.8" y="197.8" font-size="6.4" text-anchor="middle" fill="#000" stroke="#000" stroke-width="0.12">10<tspan dx="0.5" dy="-3.0" font-size="4.8">2</tspan></text>
<line x1="456.4" y1="184.2" x2="456.4" y2="185.6" stroke="#777" stroke-width="0.4"/>
<line x1="462.0" y1="184.2" x2="462.0" y2="185.6" stroke="#777" stroke-width="0.4"/>
<line x1="466.0" y1="184.2" x2="466.0" y2="185.6" stroke="#777" stroke-width="0.4"/>
<line x1="469.1" y1="184.2" x2="469.1" y2="185.6" stroke="#777" stroke-width="0.4"/>
<line x1="471.7" y1="184.2" x2="471.7" y2="185.6" stroke="#777" stroke-width="0.4"/>
<line x1="473.8" y1="184.2" x2="473.8" y2="185.6" stroke="#777" stroke-width="0.4"/>
<line x1="475.7" y1="184.2" x2="475.7" y2="185.6" stroke="#777" stroke-width="0.4"/>
<line x1="477.3" y1="184.2" x2="477.3" y2="185.6" stroke="#777" stroke-width="0.4"/>
<line x1="478.8" y1="184.2" x2="478.8" y2="186.79999999999998" stroke="#444" stroke-width="0.7"/>
<text x="478.9" y="197.8" font-size="6.4" text-anchor="middle" fill="#000" stroke="#000" stroke-width="0.12">10<tspan dx="0.5" dy="-3.0" font-size="4.8">3</tspan></text>
<line x1="488.5" y1="184.2" x2="488.5" y2="185.6" stroke="#777" stroke-width="0.4"/>
<line x1="494.1" y1="184.2" x2="494.1" y2="185.6" stroke="#777" stroke-width="0.4"/>
<line x1="498.1" y1="184.2" x2="498.1" y2="185.6" stroke="#777" stroke-width="0.4"/>
<line x1="501.2" y1="184.2" x2="501.2" y2="185.6" stroke="#777" stroke-width="0.4"/>
<line x1="503.8" y1="184.2" x2="503.8" y2="185.6" stroke="#777" stroke-width="0.4"/>
<line x1="505.9" y1="184.2" x2="505.9" y2="185.6" stroke="#777" stroke-width="0.4"/>
<line x1="507.8" y1="184.2" x2="507.8" y2="185.6" stroke="#777" stroke-width="0.4"/>
<line x1="509.4" y1="184.2" x2="509.4" y2="185.6" stroke="#777" stroke-width="0.4"/>
<line x1="510.9" y1="184.2" x2="510.9" y2="186.79999999999998" stroke="#444" stroke-width="0.7"/>
<text x="511.0" y="197.8" font-size="6.4" text-anchor="middle" fill="#000" stroke="#000" stroke-width="0.12">10<tspan dx="0.5" dy="-3.0" font-size="4.8">4</tspan></text>
</g>
<text transform="translate(24.3,117.3) rotate(-90)" font-size="13.2" text-anchor="middle">% of Max</text>
<rect x="45.9" y="207.3" width="16.8" height="16.4" fill="#dcdcdc" stroke="#ababab" stroke-width="2.2"/>
<text x="70" y="220.3" font-size="13.3">Isotype control</text>
<rect x="45.9" y="229.7" width="16.6" height="15.8" fill="#fff" stroke="#000" stroke-width="2.4"/>
<text x="70" y="243.5" font-size="13.3">IL-21R</text>
<text x="16.5" y="287.5" font-size="30.5" stroke="#000" stroke-width="0.35">B</text>
<rect x="125.05" y="302.85" width="12.20" height="218.45" fill="#000" stroke="#000" stroke-width="2.7"/>
<rect x="142.95" y="302.85" width="12.20" height="218.45" fill="#474747" stroke="#000" stroke-width="2.7"/>
<rect x="160.85" y="302.85" width="12.20" height="218.45" fill="#adadad" stroke="#000" stroke-width="2.7"/>
<rect x="178.75" y="302.85" width="12.20" height="218.45" fill="#fff" stroke="#000" stroke-width="2.7"/>
<rect x="207.65" y="340.05" width="12.20" height="181.25" fill="#000" stroke="#000" stroke-width="2.7"/>
<rect x="225.55" y="302.85" width="12.20" height="218.45" fill="#474747" stroke="#000" stroke-width="2.7"/>
<rect x="243.45" y="368.49" width="12.20" height="152.81" fill="#adadad" stroke="#000" stroke-width="2.7"/>
<rect x="261.35" y="302.85" width="12.20" height="218.45" fill="#fff" stroke="#000" stroke-width="2.7"/>
<rect x="289.95" y="419.91" width="12.20" height="101.39" fill="#000" stroke="#000" stroke-width="2.7"/>
<rect x="307.85" y="305.04" width="12.20" height="216.26" fill="#474747" stroke="#000" stroke-width="2.7"/>
<rect x="325.75" y="440.69" width="12.20" height="80.61" fill="#adadad" stroke="#000" stroke-width="2.7"/>
<rect x="343.65" y="302.85" width="12.20" height="218.45" fill="#fff" stroke="#000" stroke-width="2.7"/>
<rect x="372.55" y="469.14" width="12.20" height="52.16" fill="#000" stroke="#000" stroke-width="2.7"/>
<rect x="390.45" y="323.64" width="12.20" height="197.66" fill="#474747" stroke="#000" stroke-width="2.7"/>
<rect x="408.35" y="474.61" width="12.20" height="46.69" fill="#adadad" stroke="#000" stroke-width="2.7"/>
<rect x="426.25" y="302.85" width="12.20" height="218.45" fill="#fff" stroke="#000" stroke-width="2.7"/>
<line x1="116.9" y1="301.1" x2="116.9" y2="522.6999999999999" stroke="#000" stroke-width="2.8"/>
<line x1="115.5" y1="521.3" x2="447.5" y2="521.3" stroke="#000" stroke-width="2.8"/>
<line x1="107.60000000000001" y1="521.3" x2="116.9" y2="521.3" stroke="#000" stroke-width="2.8"/>
<text class="b" x="107.9" y="527.5" font-size="16.3" text-anchor="end">0</text>
<line x1="107.60000000000001" y1="477.5" x2="116.9" y2="477.5" stroke="#000" stroke-width="2.8"/>
<text class="b" x="107.9" y="483.7" font-size="16.3" text-anchor="end">20</text>
<line x1="107.60000000000001" y1="433.8" x2="116.9" y2="433.8" stroke="#000" stroke-width="2.8"/>
<text class="b" x="107.9" y="440.0" font-size="16.3" text-anchor="end">40</text>
<line x1="107.60000000000001" y1="390.0" x2="116.9" y2="390.0" stroke="#000" stroke-width="2.8"/>
<text class="b" x="107.9" y="396.2" font-size="16.3" text-anchor="end">60</text>
<line x1="107.60000000000001" y1="346.3" x2="116.9" y2="346.3" stroke="#000" stroke-width="2.8"/>
<text class="b" x="107.9" y="352.5" font-size="16.3" text-anchor="end">80</text>
<line x1="107.60000000000001" y1="302.5" x2="116.9" y2="302.5" stroke="#000" stroke-width="2.8"/>
<text class="b" x="107.9" y="308.7" font-size="16.3" text-anchor="end">100</text>
<line x1="158" y1="521.3" x2="158" y2="529.8" stroke="#000" stroke-width="2.8"/>
<text class="b" x="157.3" y="547.0" font-size="16.3" text-anchor="middle">0:1</text>
<line x1="240.5" y1="521.3" x2="240.5" y2="529.8" stroke="#000" stroke-width="2.8"/>
<text class="b" x="239.8" y="547.0" font-size="16.3" text-anchor="middle">0.25:1</text>
<line x1="323" y1="521.3" x2="323" y2="529.8" stroke="#000" stroke-width="2.8"/>
<text class="b" x="322.3" y="547.0" font-size="16.3" text-anchor="middle">0.5:1</text>
<line x1="405.5" y1="521.3" x2="405.5" y2="529.8" stroke="#000" stroke-width="2.8"/>
<text class="b" x="404.8" y="547.0" font-size="16.3" text-anchor="middle">1:1</text>
<text class="b" x="282.2" y="573.5" font-size="17.5" text-anchor="middle" word-spacing="-1.7">T reg: T conv</text>
<text class="b" transform="translate(67.3,410) rotate(-90)" font-size="17.6" text-anchor="middle">Relative Cell Count (%)</text>
<rect x="128" y="589.5" width="26.1" height="14.6" fill="#000" stroke="#000" stroke-width="3.4"/>
<text x="166.5" y="603.1" font-size="18.3" word-spacing="-1.0">All cells IL-21R-/-</text>
<rect x="128" y="615.5" width="26.1" height="14.6" fill="#474747" stroke="#000" stroke-width="3.4"/>
<text x="166.5" y="629.1" font-size="18.3" word-spacing="-1.0">B cells IL-21R-/-</text>
<rect x="128" y="641.5" width="26.1" height="14.6" fill="#adadad" stroke="#000" stroke-width="3.4"/>
<text x="166.5" y="655.1" font-size="18.3" word-spacing="-1.0">T conv IL-21R-/-</text>
<rect x="128" y="667.5" width="26.1" height="14.6" fill="#fff" stroke="#000" stroke-width="3.4"/>
<text x="166.5" y="681.1" font-size="18.3" word-spacing="-1.0">T reg IL-21R-/-</text>
<text x="15.5" y="728.8" font-size="30.5" stroke="#000" stroke-width="0.35">C</text>
<rect x="132.65" y="743.35" width="20.80" height="218.95" fill="#333" stroke="#000" stroke-width="2.7"/>
<rect x="163.75" y="743.35" width="20.80" height="218.95" fill="#d9d9d9" stroke="#000" stroke-width="2.7"/>
<line x1="225.65" y1="769.9" x2="225.65" y2="764.8" stroke="#000" stroke-width="2.4"/>
<line x1="219.65" y1="764.8" x2="231.65" y2="764.8" stroke="#000" stroke-width="2.4"/>
<rect x="215.25" y="771.20" width="20.80" height="191.10" fill="#333" stroke="#000" stroke-width="2.7"/>
<line x1="256.75" y1="794.9" x2="256.75" y2="789.7" stroke="#000" stroke-width="2.4"/>
<line x1="250.75" y1="789.7" x2="262.75" y2="789.7" stroke="#000" stroke-width="2.4"/>
<rect x="246.35" y="796.20" width="20.80" height="166.10" fill="#d9d9d9" stroke="#000" stroke-width="2.7"/>
<line x1="308.05" y1="833.0" x2="308.05" y2="828.1" stroke="#000" stroke-width="2.4"/>
<line x1="302.05" y1="828.1" x2="314.05" y2="828.1" stroke="#000" stroke-width="2.4"/>
<rect x="297.65" y="834.36" width="20.80" height="127.94" fill="#333" stroke="#000" stroke-width="2.7"/>
<line x1="339.15" y1="868.8" x2="339.15" y2="864.5" stroke="#000" stroke-width="2.4"/>
<line x1="333.15" y1="864.5" x2="345.15" y2="864.5" stroke="#000" stroke-width="2.4"/>
<rect x="328.75" y="870.11" width="20.80" height="92.19" fill="#d9d9d9" stroke="#000" stroke-width="2.7"/>
<line x1="390.75" y1="892.2" x2="390.75" y2="890.2" stroke="#000" stroke-width="2.4"/>
<line x1="384.75" y1="890.2" x2="396.75" y2="890.2" stroke="#000" stroke-width="2.4"/>
<rect x="380.35" y="893.57" width="20.80" height="68.73" fill="#333" stroke="#000" stroke-width="2.7"/>
<line x1="421.85" y1="905.9" x2="421.85" y2="897.6" stroke="#000" stroke-width="2.4"/>
<line x1="415.85" y1="897.6" x2="427.85" y2="897.6" stroke="#000" stroke-width="2.4"/>
<rect x="411.45" y="907.28" width="20.80" height="55.02" fill="#d9d9d9" stroke="#000" stroke-width="2.7"/>
<line x1="116.9" y1="741.6" x2="116.9" y2="963.6999999999999" stroke="#000" stroke-width="2.8"/>
<line x1="115.5" y1="962.3" x2="448.3" y2="962.3" stroke="#000" stroke-width="2.8"/>
<line x1="107.60000000000001" y1="962.3" x2="116.9" y2="962.3" stroke="#000" stroke-width="2.8"/>
<text class="b" x="107.9" y="968.5" font-size="16.3" text-anchor="end">0</text>
<line x1="107.60000000000001" y1="918.4" x2="116.9" y2="918.4" stroke="#000" stroke-width="2.8"/>
<text class="b" x="107.9" y="924.6" font-size="16.3" text-anchor="end">20</text>
<line x1="107.60000000000001" y1="874.6" x2="116.9" y2="874.6" stroke="#000" stroke-width="2.8"/>
<text class="b" x="107.9" y="880.8" font-size="16.3" text-anchor="end">40</text>
<line x1="107.60000000000001" y1="830.7" x2="116.9" y2="830.7" stroke="#000" stroke-width="2.8"/>
<text class="b" x="107.9" y="836.9" font-size="16.3" text-anchor="end">60</text>
<line x1="107.60000000000001" y1="786.9" x2="116.9" y2="786.9" stroke="#000" stroke-width="2.8"/>
<text class="b" x="107.9" y="793.1" font-size="16.3" text-anchor="end">80</text>
<line x1="107.60000000000001" y1="743.0" x2="116.9" y2="743.0" stroke="#000" stroke-width="2.8"/>
<text class="b" x="107.9" y="749.2" font-size="16.3" text-anchor="end">100</text>
<line x1="158" y1="962.3" x2="158" y2="970.8" stroke="#000" stroke-width="2.8"/>
<text class="b" x="157.3" y="988.0" font-size="16.3" text-anchor="middle">0:1</text>
<line x1="240.5" y1="962.3" x2="240.5" y2="970.8" stroke="#000" stroke-width="2.8"/>
<text class="b" x="239.8" y="988.0" font-size="16.3" text-anchor="middle">0.25:1</text>
<line x1="323" y1="962.3" x2="323" y2="970.8" stroke="#000" stroke-width="2.8"/>
<text class="b" x="322.3" y="988.0" font-size="16.3" text-anchor="middle">0.5:1</text>
<line x1="405.5" y1="962.3" x2="405.5" y2="970.8" stroke="#000" stroke-width="2.8"/>
<text class="b" x="404.8" y="988.0" font-size="16.3" text-anchor="middle">1:1</text>
<text class="b" x="282.9" y="1014.5" font-size="17.5" text-anchor="middle" word-spacing="0">Treg: Tconv</text>
<text class="b" transform="translate(67.3,850.8) rotate(-90)" font-size="17.6" text-anchor="middle">Relative Cell Count (%)</text>
<line x1="221.4" y1="731.8" x2="267.1" y2="731.8" stroke="#000" stroke-width="3.2" stroke-linecap="round"/>
<line x1="303.7" y1="731.8" x2="349.90000000000003" y2="731.8" stroke="#000" stroke-width="3.2" stroke-linecap="round"/>
<line x1="385.5" y1="733.6" x2="431.8" y2="733.6" stroke="#000" stroke-width="3.2" stroke-linecap="round"/>
<text x="243" y="734" font-size="30.5" stroke="#000" stroke-width="0.5" text-anchor="middle">*</text>
<text x="325.6" y="734" font-size="30.5" stroke="#000" stroke-width="0.5" text-anchor="middle">**</text>
<text x="407.5" y="727.2" font-size="21" font-style="italic" text-anchor="middle">ns</text>
<rect x="117.2" y="1032.0" width="25.1" height="14.8" fill="#333" stroke="#000" stroke-width="3.2"/>
<text x="155" y="1045.9" font-size="17.7" word-spacing="-0.3">No IL-21</text>
<rect x="117.2" y="1058.3" width="25.1" height="14.8" fill="#d9d9d9" stroke="#000" stroke-width="3.2"/>
<text x="155" y="1072.2" font-size="17.7" word-spacing="-1.8">With IL-21</text>
</svg></body></html>
